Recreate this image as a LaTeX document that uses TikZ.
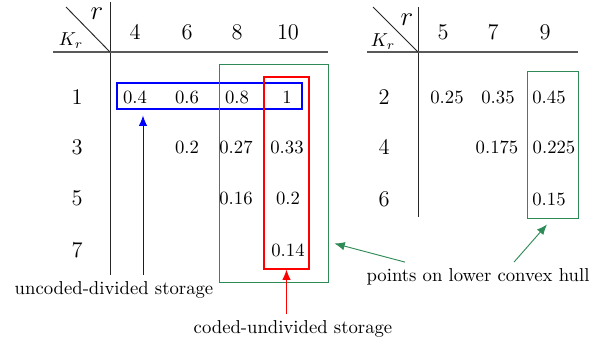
\documentclass[tikz,border=0pt]{standalone}
\usepackage{tikz}
\usetikzlibrary{calc}
\usetikzlibrary{positioning}
\usetikzlibrary{fit}
\usetikzlibrary{arrows.meta}
\usepackage{amsmath}
\definecolor{hullgreen}{RGB}{46,139,87}
\tikzstyle{headnode} = [inner sep=0, font=\fontsize{13}{15}\selectfont]
\tikzstyle{rnode} = [inner sep=0, font=\Large]
\tikzstyle{valnode} = [inner sep=0]
\tikzstyle{hline} = [draw=black!65, line width=0.8pt]
\tikzstyle{vline} = [draw=black!85, line width=0.5pt]
\tikzstyle{boxA} = [draw, color=blue, line width=0.55pt, inner sep=0]
\tikzstyle{boxB} = [draw, color=red, line width=0.55pt, inner sep=0]
\tikzstyle{boxC} = [draw, color=hullgreen, line width=0.5pt, inner sep=0]
\tikzstyle{pointer} = [-{Latex[length=5.5pt,width=4.5pt]}, line width=0.5pt]

\begin{document}
\begin{tikzpicture}[x=0.535pt, y=-0.535pt]
    \useasboundingbox (0,0) rectangle (608,345);

    % left table
    \coordinate (lt_corner) at (110,52);
    \draw[vline] (110,2) -- (110,275);
    \draw[hline] (53,52) -- (328,52);
    \draw[vline] (66,7) -- (lt_corner);
    \node[rnode] (lt_r) at (97,14) {$r$};
    \node[valnode] (lt_k) at (71,41) {$K_r$};
    \node[headnode] (lt_c4) at (135,32) {$4$};
    \node[headnode] (lt_c6) at (187,32) {$6$};
    \node[headnode] (lt_c8) at (237,32) {$8$};
    \node[headnode] (lt_c10) at (288,32) {$10$};
    \node[headnode] (lt_k1) at (77,97) {$1$};
    \node[headnode] (lt_k3) at (77,147) {$3$};
    \node[headnode] (lt_k5) at (77,198) {$5$};
    \node[headnode] (lt_k7) at (77,250) {$7$};
    \node[valnode] (lt_v1_4) at (135,97) {$0.4$};
    \node[valnode] (lt_v1_6) at (187,97) {$0.6$};
    \node[valnode] (lt_v1_8) at (237,97) {$0.8$};
    \node[valnode] (lt_v1_10) at (287,97) {$1$};
    \node[valnode] (lt_v3_6) at (187,147) {$0.2$};
    \node[valnode] (lt_v3_8) at (236,147) {$0.27$};
    \node[valnode] (lt_v3_10) at (287,147) {$0.33$};
    \node[valnode] (lt_v5_8) at (236,198) {$0.16$};
    \node[valnode] (lt_v5_10) at (288,198) {$0.2$};
    \node[valnode] (lt_v7_10) at (288,250) {$0.14$};

    % right table
    \coordinate (rt_corner) at (418,52);
    \draw[vline] (418,7) -- (418,217);
    \draw[hline] (367,52) -- (578,52);
    \draw[vline] (373,7) -- (rt_corner);
    \node[rnode] (rt_r) at (407,20) {$r$};
    \node[valnode] (rt_k) at (383,42) {$K_r$};
    \node[headnode] (rt_c5) at (443,32) {$5$};
    \node[headnode] (rt_c7) at (493,32) {$7$};
    \node[headnode] (rt_c9) at (545,32) {$9$};
    \node[headnode] (rt_k2) at (384,97) {$2$};
    \node[headnode] (rt_k4) at (384,147) {$4$};
    \node[headnode] (rt_k6) at (384,199) {$6$};
    \node[valnode] (rt_v2_5) at (447,97) {$0.25$};
    \node[valnode] (rt_v2_7) at (498,97) {$0.35$};
    \node[valnode] (rt_v2_9) at (549,97) {$0.45$};
    \node[valnode] (rt_v4_7) at (497,147) {$0.175$};
    \node[valnode] (rt_v4_9) at (554,147) {$0.225$};
    \node[valnode] (rt_v6_9) at (549,199) {$0.15$};

    % boxes
    \node[boxA, fit={(117,83) (302,109)}] (divided_box) {};
    \node[boxC, fit={(219,64) (328,282)}] (hull_box_l) {};
    \node[boxB, fit={(264,77) (309,269)}] (undivided_box) {};
    \node[boxC, fit={(527,71) (578,218)}] (hull_box_r) {};

    % labels and pointers
    \node (uncoded_lbl) at (114,290) {uncoded-divided storage};
    \node (coded_lbl) at (293,329) {coded-undivided storage};
    \node (hull_lbl) at (478,277) {points on lower convex hull};

    \coordinate (blue_tail) at ($(uncoded_lbl.north)+(29,0)$);
    \draw[pointer, blue] (blue_tail) -- ($(blue_tail |- divided_box.south)+(0,6)$);
    \draw[pointer, red] (coded_lbl.north -| undivided_box.south) -- (undivided_box.south);
    \draw[pointer, hullgreen] ($(hull_lbl.north)+(-73,0)$) -- ($(hull_box_l.south east)+(6,-39)$);
    \draw[pointer, hullgreen] ($(hull_lbl.north)+(36,0)$) -- ($(hull_box_r.south)+(-5.5,6)$);
\end{tikzpicture}
\end{document}
